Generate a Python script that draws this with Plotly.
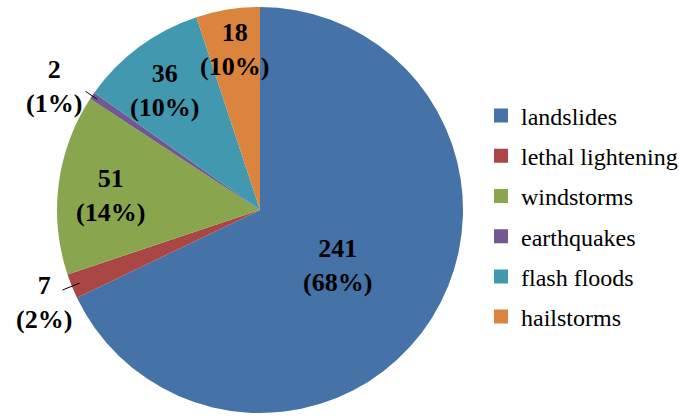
import math
import plotly.graph_objects as go

categories = ["landslides", "lethal lightening", "windstorms", "earthquakes", "flash floods", "hailstorms"]
values = [241, 7, 51, 2, 36, 18]
pct_labels = ["68%", "2%", "14%", "1%", "10%", "10%"]
colors = ["#4572A7", "#AA4643", "#89A54E", "#71588F", "#4198AF", "#DB843D"]

# styling: label placement (radial fraction, angle nudge in degrees) and leader lines
label_radius = [0.469, 1.158, 0.742, 1.184, 0.754, 0.798]
label_nudge = [3.8, -1.2, -2.0, -3.2, -1.9, 0.2]
leader = [None, (0.96, 1.05), None, (0.97, 1.04), None, None]

W, H = 679, 419
cx, cy, R = 260, 210, 203
FONT = "Liberation Serif"

fig = go.Figure()
fig.add_trace(go.Pie(
    labels=categories, values=values, sort=False, direction="clockwise", rotation=0,
    marker=dict(colors=colors, line=dict(width=0)), textinfo="none", showlegend=False,
    hoverinfo="label+value+percent",
    domain=dict(x=[(cx - R) / W, (cx + R) / W], y=[1 - (cy + R) / H, 1 - (cy - R) / H]),
))

for i, (name, col) in enumerate(zip(categories, colors)):
    fig.add_trace(go.Scatter(
        x=[None], y=[None], mode="markers", name=name, legendgroup=name,
        marker=dict(symbol="square", size=14, color=col), showlegend=True,
    ))

total = sum(values)
cum = 0.0
for v, p, f, nd, ld in zip(values, pct_labels, label_radius, label_nudge, leader):
    mid = (cum + v / 2) / total * 2 * math.pi
    cum += v
    a = mid + math.radians(nd)
    x = cx + f * R * math.sin(a)
    y = cy - f * R * math.cos(a)
    fig.add_annotation(
        x=x / W, y=1 - y / H, xref="paper", yref="paper", showarrow=False,
        text=f"<b>{v}<br>({p})</b>", font=dict(family=FONT, size=26, color="black"),
        xanchor="center", yanchor="middle", align="center",
    )
    if ld:
        r0, r1 = ld
        fig.add_shape(
            type="line", xref="paper", yref="paper",
            x0=(cx + r0 * R * math.sin(mid)) / W, y0=1 - (cy - r0 * R * math.cos(mid)) / H,
            x1=(cx + r1 * R * math.sin(mid)) / W, y1=1 - (cy - r1 * R * math.cos(mid)) / H,
            line=dict(color="black", width=1),
        )

fig.update_layout(
    width=W, height=H, margin=dict(l=0, r=0, t=0, b=0, autoexpand=False),
    paper_bgcolor="white", plot_bgcolor="white",
    xaxis=dict(visible=False), yaxis=dict(visible=False),
    legend=dict(x=481 / W, xanchor="left", y=1 - 216.5 / H, yanchor="middle",
                font=dict(family=FONT, size=24, color="black"), tracegroupgap=6,
                bgcolor="rgba(0,0,0,0)"),
    font=dict(family=FONT),
)

fig.write_html("out.html")
